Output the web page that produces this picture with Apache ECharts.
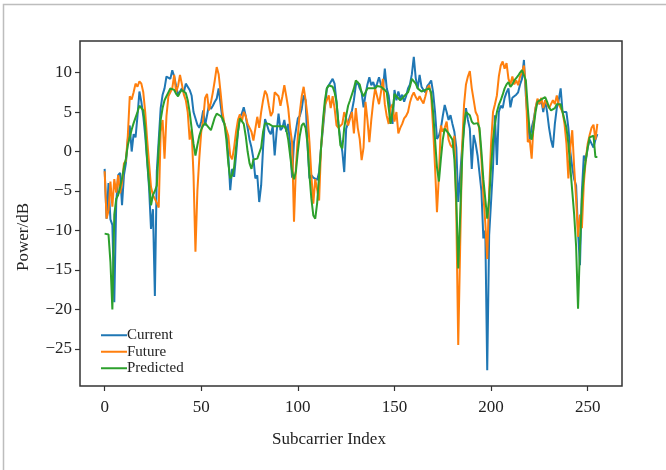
<!DOCTYPE html>
<html>
<head>
<meta charset="utf-8">
<script src="https://cdn.jsdelivr.net/npm/echarts@6/dist/echarts.min.js"></script>
<style>
  html, body { margin: 0; padding: 0; background: #fff; }
  #chart { width: 666px; height: 470px; }
</style>
</head>
<body>
<div id="chart"></div>
<script>
// values (Power/dB per subcarrier)
var current = [
    -2.2, -8.5, -4.0, -8.6, -9.3, -19.1, -6.5, -3.0, -2.7, -6.8,
    -3.0, -1.5, 1.5, 3.3, 0.0, 2.2, 1.8, 4.5, 7.6, 6.3,
    4.5, 2.0, -1.2, -4.6, -9.8, -7.3, -18.3, -2.5, 1.5, 5.5,
    7.2, 8.0, 9.5, 9.6, 9.2, 10.3, 9.5, 8.3, 7.2, 7.6,
    8.0, 7.5, 8.6, 8.5, 7.8, 7.1, 5.0, 5.2, 3.4, 3.0,
    3.8, 5.2, 3.3, 3.5, 5.9, 5.4, 5.8, 6.3, 6.7, 8.0,
    6.0, 4.0, 3.5, 2.6, -0.5, -4.9, -2.2, -3.2, -0.5, 2.5,
    4.4, 4.8, 5.6, 4.5, 3.0, 1.5, 0.5, -0.9, -3.4, -3.0,
    -6.4, -4.3, 0.5, 4.1, 3.4, 2.6, 2.2, 3.2, -0.5, 2.5,
    4.8, 2.7, 3.0, 4.0, 2.5, 3.5, 0.8, -3.3, 1.2, 1.0,
    4.2, 4.5, 5.4, 7.1, 6.5, 0.8, -3.4, -3.0, -3.3, -3.2,
    -3.6, -2.6, 0.5, 2.9, 5.5, 8.0, 8.4, 8.8, 9.2, 8.6,
    6.3, 3.5, 1.5, 0.0, -2.6, 2.9, 3.6, 4.5, 5.2, 6.5,
    8.4, 8.8, 8.0, 7.5, 5.6, 7.2, 8.5, 9.4, 8.4, 8.8,
    8.0, 8.6, 9.4, 8.5, 7.8, 10.5, 8.0, 7.1, 5.0, 3.5,
    7.8, 6.5, 7.6, 6.7, 7.2, 6.3, 7.0, 8.0, 8.5, 9.8,
    12.0, 9.3, 8.0, 9.7, 8.2, 7.8, 7.5, 8.3, 8.6, 9.0,
    7.5, 5.0, 1.6, 2.0, 2.9, 4.5, 5.9, 5.0, 4.0, 4.6,
    3.5, 2.5, 0.5, -6.4, -3.0, 0.5, 2.9, 5.5, 4.0, 2.9,
    -2.2, 2.1, 1.0, -0.5, -0.5, -5.0, -11.0, -10.0, -27.7, -10.6,
    -10.5, -2.0, 4.6, -1.7, 5.0, 5.8, 5.5, 6.8, 7.5, 8.0,
    5.6, 6.8, 7.0, 7.2, 7.5, 8.5, 9.2, 11.6, 7.0, 3.8,
    1.5, 3.0, 4.0, 5.5, 6.5, 6.0, 6.5, 5.0, 6.5, 5.0,
    3.0, 1.5, 0.5, 3.5, 5.5, 6.5, 8.0, 5.0, 5.2, 5.0,
    3.0, 0.0, -2.0, -3.5, -4.3, -10.2, -14.4, -5.0, -0.5, -1.2,
    0.5, 1.5, 1.6, 0.5, 1.5, 2.2
];

var future = [
    -2.5, -8.5, -7.5, -3.8, -7.0, -3.5, -5.2, -3.0, -5.3, -4.0,
    -1.5, -1.2, 2.0, 7.0, 6.6, 7.5, 8.6, 8.2, 8.9, 8.6,
    7.5, 5.0, 1.5, 1.3, -4.5, -5.5, -6.0, -6.5, -7.1, 2.5,
    4.0, -0.9, 4.5, 7.0, 6.8, 8.0, 9.7, 7.5, 8.3, 9.7,
    8.5, 7.2, 6.5, 5.0, 1.5, 2.8, -3.0, -12.7, -5.0, -0.8,
    2.5, 4.0, 6.8, 7.3, 5.2, 6.2, 7.5, 9.0, 10.7, 9.8,
    7.5, 5.0, 3.5, 2.8, 2.0, -0.5, -1.0, 0.5, 2.5, 4.0,
    4.7, 3.8, 5.0, 4.5, 3.5, 3.5, 2.5, 1.4, 1.2, 4.4,
    3.0, 5.0, 6.5, 7.7, 7.2, 5.8, 4.5, 5.0, 7.5, 7.7,
    7.0, 5.8, 7.0, 8.4, 7.0, 5.5, 3.0, 1.2, -8.9, -2.0,
    2.0, 5.0, 7.0, 8.2, 6.5, 4.5, 1.2, -3.0, -6.6, -3.5,
    -3.5, -6.2, 0.5, 3.5, 5.9, 5.9, 7.1, 5.5, 7.0, 5.5,
    3.3, 3.0, 2.8, 3.5, 5.0, 4.2, 3.3, 3.3, 5.0, 2.3,
    5.5, 3.0, 1.6, -1.1, 0.5, 6.3, 4.0, 1.2, 4.0, 6.3,
    8.0, 7.0, 6.0, 7.5, 9.2, 6.0, 4.5, 3.5, 5.5, 6.0,
    3.8, 5.0, 2.3, 3.0, 3.5, 4.2, 4.5, 5.0, 6.2, 7.0,
    7.5, 6.9, 6.5, 7.0, 6.5, 6.1, 7.0, 8.0, 8.4, 7.0,
    3.0, -2.0, -7.7, -3.0, 3.3, 2.5, 3.0, 3.8, 1.5, 0.8,
    0.5, 2.0, -8.0, -24.5, -12.0, 0.5, 5.9, 8.5, 9.5, 10.2,
    8.0, 6.5, 5.0, 4.5, 2.5, -1.0, -5.5, -9.0, -13.6, -5.0,
    1.0, 5.0, 6.0, 7.1, 9.5, 10.9, 11.4, 10.5, 11.2, 9.2,
    8.5, 9.5, 8.5, 9.0, 8.4, 9.5, 10.0, 10.9, 8.0, 1.2,
    1.5, -0.9, 3.5, 5.5, 6.7, 6.0, 6.8, 5.5, 6.5, 6.0,
    5.5, 6.0, 6.5, 6.0, 7.1, 6.0, 5.5, 5.0, 3.5, 1.0,
    -3.4, 0.5, 2.7, -2.0, -6.0, -10.8, -8.0, -9.7, -4.0, -1.0,
    1.0, 2.1, 3.0, 3.4, 1.5, 3.5
];

var predicted = [
    -10.4, -10.5, -10.5, -14.0, -20.0, -8.0, -6.0, -5.5, -4.5, -3.4,
    -2.0, -0.9, 0.8, 1.8, 2.8, 3.6, 4.3, 5.0, 5.8, 6.0,
    5.2, 3.0, -1.0, -4.0, -6.8, -5.5, -5.0, -4.3, 0.5, 4.0,
    5.5, 6.5, 7.0, 7.5, 8.0, 8.2, 7.8, 7.3, 7.0, 7.5,
    7.8, 7.6, 7.4, 6.5, 5.0, 3.0, 1.0, -0.5, 0.8, 2.0,
    2.8, 3.3, 3.6, 3.8, 3.0, 2.7, 3.5, 4.3, 4.8, 4.8,
    4.5, 4.2, 3.5, 1.5, -1.5, -3.4, -3.0, -2.0, 0.5, 2.5,
    4.2, 4.0, 3.5, 2.0, 0.0, -1.5, -2.2, -1.0, -0.8, -0.9,
    -0.8, 0.5, 2.5, 3.6, 3.7, 3.5, 3.4, 3.2, 3.3, 3.2,
    3.3, 3.2, 3.0, 3.2, 2.8, 1.5, -0.5, -2.5, -3.5, -2.5,
    0.0, 2.0, 3.3, 3.6, 3.0, 1.0, -3.0, -6.0, -8.1, -8.5,
    -6.5, -3.0, 0.5, 4.0, 6.5, 8.0, 8.4, 8.3, 8.2, 7.5,
    6.3, 3.5, 0.8, 0.4, 3.0, 4.5, 5.8, 6.5, 6.7, 8.0,
    9.0, 8.9, 8.5, 7.5, 7.0, 7.2, 8.0, 8.2, 8.0, 7.8,
    8.0, 8.3, 8.4, 8.2, 8.0, 7.8, 7.5, 5.5, 3.5, 5.0,
    7.3, 7.0, 6.8, 6.5, 6.6, 7.0, 7.2, 7.5, 8.2, 9.2,
    9.4, 8.6, 8.0, 7.8, 7.6, 7.7, 7.8, 8.0, 8.0, 7.5,
    5.0, 1.5, -2.0, -3.8, -1.0, 1.5, 2.9, 2.8, 2.3, 2.1,
    1.5, -1.0, -6.0, -14.8, -8.0, -1.0, 3.3, 5.0, 5.0, 4.6,
    3.8, 3.5, 3.5, 3.6, 3.0, 0.0, -3.5, -6.0, -8.5, -6.0,
    -2.0, 1.5, 3.5, 5.0, 5.9, 6.5, 7.2, 8.0, 8.5, 8.8,
    8.2, 8.5, 9.0, 9.3, 9.6, 10.0, 10.3, 10.2, 9.0, 5.5,
    2.5, 1.5, 3.0, 5.0, 6.3, 6.5, 6.6, 6.7, 6.9, 6.3,
    5.6, 5.2, 5.0, 5.5, 6.0, 6.2, 6.0, 5.0, 4.0, 3.0,
    1.0, -2.0, -5.0, -8.0, -12.0, -19.9, -12.0, -6.0, -3.0, -1.0,
    0.5, 1.8, 2.0, 2.0, -0.7, -0.7
];

var seriesNames = ['Current', 'Future', 'Predicted'];
var seriesColors = ['#1f77b4', '#ff7f0e', '#2ca02c'];
var xTicks = [0, 50, 100, 150, 200, 250];
var yTicks = [-25, -20, -15, -10, -5, 0, 5, 10];

var FONT = "'Liberation Serif', 'DejaVu Serif', serif";

function pairs(arr) {
    return arr.map(function (v, i) { return [i, v]; });
}

var chart = echarts.init(document.getElementById('chart'), null, {renderer: 'canvas'});

chart.setOption({
    animation: false,
    backgroundColor: '#fff',
    grid: {
        left: 80, right: 44, top: 41, bottom: 84,
        show: true, borderColor: '#333', borderWidth: 1.5,
        backgroundColor: 'transparent'
    },
    legend: {
        orient: 'vertical',
        left: 96, top: 322,
        itemWidth: 26, itemHeight: 2, itemGap: 0,
        icon: 'rect',
        data: seriesNames,
        textStyle: {fontFamily: FONT, fontSize: 15, color: '#222', lineHeight: 16.5, padding: [0, 0, 0, -5]}
    },
    xAxis: {
        type: 'value',
        min: -12.75, max: 267.75,
        axisLine: {show: false, onZero: false},
        splitLine: {show: false},
        axisTick: {show: true, length: 5, customValues: xTicks, lineStyle: {color: '#333', width: 1.2}},
        axisLabel: {
            customValues: xTicks, margin: 13,
            fontFamily: FONT, fontSize: 17, color: '#222'
        }
    },
    yAxis: {
        type: 'value',
        min: -29.7, max: 14.0,
        axisLine: {show: false, onZero: false},
        splitLine: {show: false},
        axisTick: {show: true, length: 5, customValues: yTicks, lineStyle: {color: '#333', width: 1.2}},
        axisLabel: {
            customValues: yTicks, margin: 8,
            fontFamily: FONT, fontSize: 17, color: '#222',
            formatter: function (v) { return String(v).replace('-', '\u2212'); }
        }
    },
    series: [
        {name: seriesNames[0], type: 'line', data: pairs(current), showSymbol: false,
            lineStyle: {width: 2, color: seriesColors[0]}, itemStyle: {color: seriesColors[0]}},
        {name: seriesNames[1], type: 'line', data: pairs(future), showSymbol: false,
            lineStyle: {width: 2, color: seriesColors[1]}, itemStyle: {color: seriesColors[1]}},
        {name: seriesNames[2], type: 'line', data: pairs(predicted), showSymbol: false,
            lineStyle: {width: 2, color: seriesColors[2]}, itemStyle: {color: seriesColors[2]}}
    ],
    graphic: [
        {type: 'rect', shape: {x: 3.5, y: 4.5, width: 800, height: 600}, silent: true,
            style: {fill: 'none', stroke: '#bdbdbd', lineWidth: 1.5}},
        {type: 'text', x: 329, y: 440, style: {text: 'Subcarrier Index', fontFamily: FONT, fontSize: 17,
            fill: '#222', align: 'center', verticalAlign: 'middle'}},
        {type: 'text', x: 24, y: 237, rotation: Math.PI / 2, style: {text: 'Power/dB', fontFamily: FONT, fontSize: 17,
            fill: '#222', align: 'center', verticalAlign: 'middle'}}
    ]
});
</script>
</body>
</html>
